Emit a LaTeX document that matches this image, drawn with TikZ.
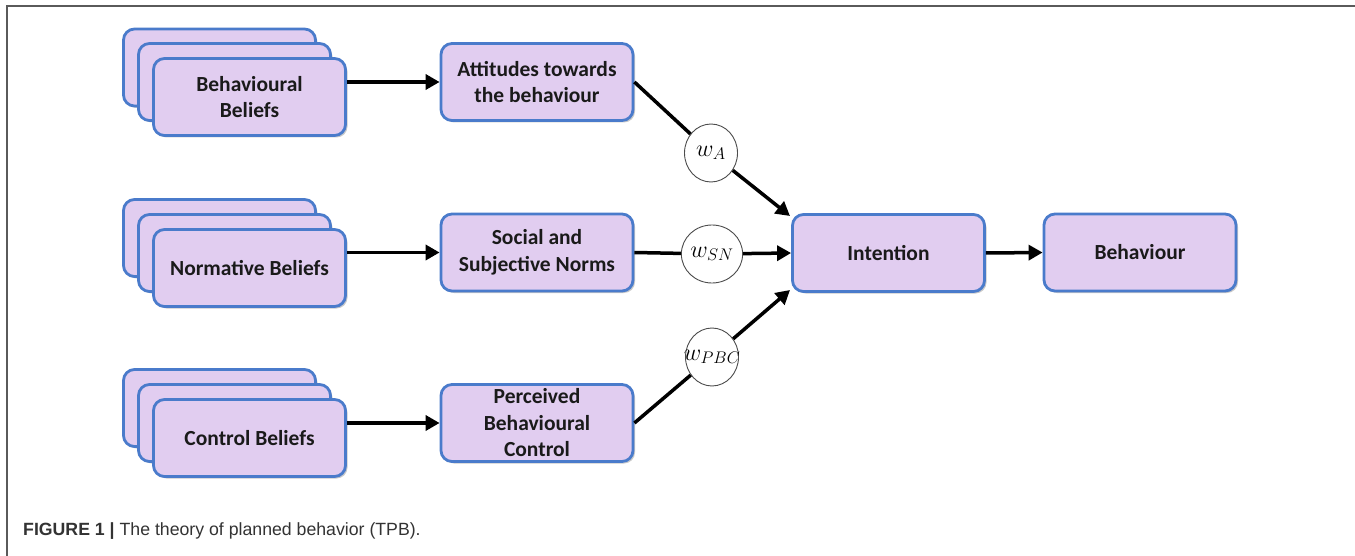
\documentclass[tikz,border=0pt]{standalone}
\usepackage{fix-cm}
\usepackage{fontspec}
\setmainfont{Carlito}
\newfontfamily\capfont{Liberation Sans}
\usetikzlibrary{arrows.meta,shadows,shapes.geometric}
\definecolor{boxfill}{HTML}{E1CDF0}
\definecolor{boxdraw}{HTML}{4A7BCB}
\definecolor{framegray}{HTML}{5A5A5A}
\definecolor{txt}{HTML}{1A1A1A}
\begin{document}
\begin{tikzpicture}[x=1pt,y=-1pt,
  box/.style={draw=boxdraw, fill=boxfill, line width=2.8pt, rounded corners=11pt,
    minimum width=192pt, minimum height=77pt, inner sep=0pt, align=center,
    text=txt, font=\bfseries\fontsize{21.5}{26.5}\selectfont,
    drop shadow={shadow xshift=2pt, shadow yshift=-2pt, opacity=0.35, fill=black!60}},
  wt/.style={ellipse, draw=black!70, line width=0.9pt, fill=white,
    minimum width=53pt, minimum height=58pt, inner sep=0pt,
    font=\fontsize{24}{28}\selectfont},
  ln/.style={line width=3.5pt, black},
  arr/.style={line width=3.5pt, black, -{Triangle[length=14pt,width=15pt]}}
]
\useasboundingbox (0,0) rectangle (1355,556);
\fill[white] (0,0) rectangle (1355,556);
\draw[framegray, line width=1.5pt] (7,556) -- (7,6) -- (1355,6);

% stacks
\node[box] (bb3) at (219.5,67.5) {};
\node[box] (bb2) at (234.5,82) {};
\node[box] (bb1) at (249.5,97) {Behavioural\\Beliefs};

\node[box] (nb3) at (219.5,238) {};
\node[box] (nb2) at (234.5,253) {};
\node[box] (nb1) at (249.5,268) {Normative Beliefs};

\node[box] (cb3) at (219.5,408) {};
\node[box] (cb2) at (234.5,423) {};
\node[box] (cb1) at (249.5,438) {Control Beliefs};

% middle column
\node[box] (att) at (537,82) {Attitudes towards\\the behaviour};
\node[box] (soc) at (537,252.5) {Social and\\Subjective Norms};
\node[box] (per) at (537,423) {Perceived\\Behavioural\\Control};

\node[box] (int) at (888.5,253) {Intention};
\node[box] (beh) at (1140,252.5) {Behaviour};

% weights
\node[wt] (wa) at (711,153) {$w_A$};
\node[wt] (wsn) at (712,254) {$w_{SN}$};
\node[wt] (wpbc) at (712,357) {\makebox[0pt]{$w_{PBC}$}};

\coordinate (ia) at (790,216);
\coordinate (ib) at (790,290);

% connectors
\draw[arr] (bb1.east |- att.west) -- (att.west);
\draw[arr] (nb1.east |- soc.west) -- (soc.west);
\draw[arr] (cb1.east |- per.west) -- (per.west);

\draw[ln] (att.east) -- (wa);
\draw[arr] (wa) -- (ia);
\draw[ln] (soc.east) -- (wsn);
\draw[arr] (wsn) -- (int.west);
\draw[ln] (per.east) -- (wpbc);
\draw[arr] (wpbc) -- (ib);

\draw[arr] (int.east) -- (beh.west);

% caption
\node[anchor=base west, inner sep=0pt, text=black!80,
  font=\capfont\fontsize{17.7}{21}\selectfont] (cap) at (23,535)
  {\textbf{FIGURE 1 |} The theory of planned behavior (TPB).};
\end{tikzpicture}
\end{document}
